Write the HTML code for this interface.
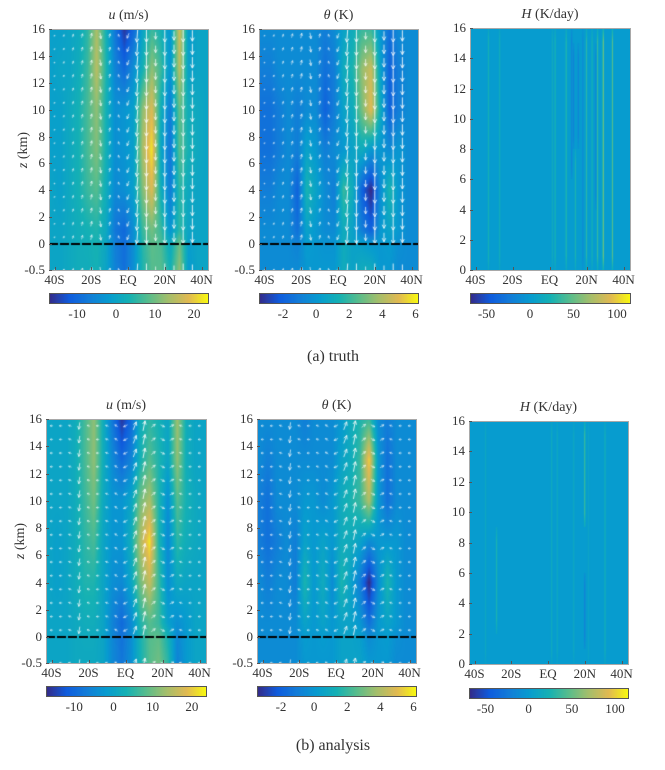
<!DOCTYPE html>
<html><head><meta charset="utf-8">
<style>
body{margin:0;width:665px;height:770px;background:#fff;position:relative;overflow:hidden;font-family:"Liberation Serif","DejaVu Serif",serif;color:#333}
.abs{position:absolute}
.tl{position:absolute;font-size:13px;line-height:13px;white-space:nowrap;color:#333;font-family:"Liberation Serif","DejaVu Serif",serif}
.panel{position:absolute;border:1px solid #a8a8a8;box-sizing:border-box}
.cb{position:absolute;border:1px solid #555;box-sizing:border-box}
.title{position:absolute;font-size:14px;white-space:nowrap;transform:translateX(-50%);font-family:"Liberation Serif","DejaVu Serif",serif}
.cap{position:absolute;font-size:16px;white-space:nowrap;transform:translateX(-50%);font-family:"Liberation Serif","DejaVu Serif",serif}
</style></head>
<body>
<div class="cap" style="left:333px;top:348px">(a) truth</div>
<div class="cap" style="left:333px;top:737px">(b) analysis</div>
<script>
// ---- data ----
const gridLons=[-42,-37,-32,-27,-22,-17,-12,-7,-2,3,8,13,18,23,28,33,38,43];
const gridZ=[16,13,10,7,4,1,-0.5];
const uTruth=[
[-1,-1,0,1,5,14,3,-8,-16,-10,0,6,3,-3,17,-2,0,0],
[-1,0,0,2,6,15,4,-6,-10,-4,3,12,6,-3,15,-1,0,0],
[-1,-1,1,3,7,12,3,-4,-3,-1,12,18,2,-7,9,2,1,0],
[-1,-1,1,3,7,11,3,-4,-3,-1,14,22,0,-8,8,3,1,0],
[0,-1,1,3,6,8,2,-5,-4,-1,11,18,2,-7,5,1,0,0],
[0,0,1,2,3,4,1,-8,-10,-4,6,10,6,-3,5,0,0,0],
[0,0,1,2,2,3,0,-6,-9,-4,4,8,8,3,12,-2,0,0]];
const uAnalysis=[
[0,0,0,2,7,12,2,-8,-16,-10,2,5,3,0,13,2,0,0],
[0,0,0,2,7,12,2,-5,-10,-6,3,8,4,0,12,2,0,0],
[0,0,0,2,6,10,1,-3,-3,0,10,14,4,-4,8,3,1,0],
[0,-1,0,2,5,7,0,-3,-3,2,14,22,4,-5,5,2,1,0],
[0,-1,0,2,4,4,0,-4,-5,0,10,16,6,-4,1,0,0,0],
[0,0,0,1,2,2,0,-6,-10,-5,4,8,6,-1,-4,-2,0,0],
[0,0,0,1,1,1,0,-5,-8,-4,3,8,10,5,-6,-2,0,0]];
const thTruth=[
[-0.5,-0.5,-0.5,-0.5,-0.5,-0.5,-0.5,-1,-0.5,0.5,1,2,2,0,-1.5,-0.5,-0.5,-0.5],
[-1,-1,-0.5,-0.5,-0.5,-0.5,-0.5,-1.5,-1,1,1.5,3.5,4.5,0.5,-2,-1,-0.5,-0.5],
[-1.5,-1.5,-1,-0.5,-1,-0.5,-0.5,-2,-1,0.5,1,3,5,1,-2,-1,-0.5,-0.5],
[-1.5,-1.5,-1,-0.5,-1,0.5,0,-1,-0.5,0,0.5,1,0,0,-0.5,0,-0.5,-0.5],
[-1,-1,-0.5,-0.5,-2,1.5,0.5,-0.5,-1,2,1,-2,-3.5,-0.5,1.5,0,-0.5,-0.5],
[-0.5,-0.5,-0.5,-0.5,-1.5,0.5,0,-0.5,-0.5,1,0.5,-1,-2,0,0.5,0,-0.5,-0.5],
[-0.5,-0.5,-0.5,-0.5,-0.5,0,0,0,0,1,0.5,1,1,0,0,-0.5,-0.5,-0.5]];
const thAnalysis=[
[-0.5,-0.5,-0.5,-0.5,-0.5,-1,-0.5,-0.5,-0.5,0,1,1.5,2,-0.5,-1,-0.5,-0.5,-0.5],
[-0.5,-1,-0.5,-0.5,-0.5,-0.5,-0.5,-0.5,-0.5,0.5,1,2,5.5,0,-1.5,-0.5,-0.5,-0.5],
[-1,-1.5,-0.5,-0.5,-0.5,0,0,-0.5,0,1,1.5,2,4,0,-1.5,-0.5,-0.5,-0.5],
[-1,-1.5,-1,-0.5,-1,0.5,0,0.5,0,1,1,0.5,-0.5,0,0,0,-0.5,-0.5],
[-0.5,-1,-0.5,-0.5,-1,1.5,0,1,-0.5,1.5,0.5,-1,-3.5,-0.5,1.5,0,-0.5,-0.5],
[-0.5,-0.5,-0.5,-0.5,-0.5,0.5,0,0.5,0,0.5,0.5,0,-1.5,0,0.5,0,-0.5,-0.5],
[-0.5,-0.5,-0.5,-0.5,-0.5,0,0,0,0,0.5,0.5,0.5,0,0,0,-0.5,-0.5,-0.5]];
// heating stripes
const hTruthLon=[-33,-27,1.5,3,9,12,13,14,15.5,18,20,23,25,26,29,34];
const hTruthVal=[22,18,15,25,30,-18,-20,25,-18,-12,30,22,-15,35,60,45];
const hTruthZ0=[0,0,0,0,0,6,8,0,8,0,0,0,4,0,0,0];
const hTruthZ1=[16,16,16,16,16,16,15,8,15,16,16,16,15,16,16,16];
const hAnaLon=[-34,-28,2,5,14,20,20,22,31];
const hAnaVal=[12,25,15,12,12,40,-22,8,20];
const hAnaZ0=[0,2,0,0,0,9,1,0,0];
const hAnaZ1=[16,9,16,16,16,16,6,16,16];
// wind arrows (px per arrow, u east, w up)
const arrowLons=[-40,-35,-30,-25,-20,-15,-10,-5,0,5,10,15,20,25,30,35,40];
const wTruth=[1,2,3,4,5,-6,4,3,-5,-13,-13,-7,-13,-9,-13,-11,0];
const uwTruth=[1,1,1,1,1,1,1,-1,-2,-1,0,0,0,0,0,0,0];
const wAna=[0,0,1,-7,1,0,1,2,-2,8,10,3,-2,2,1,0,0];
const uwAna=[-3,-3,-3,-1,-3,-3,-3,-3,-4,3,2,4,4,4,-3,-3,-3];
// color ranges and ticks
const uRange=[-17.2,23.6], thRange=[-3.45,6.15], hRange=[-69,115];
const uTicks=[-10,0,10,20], thTicks=[-2,0,2,4,6], hTicks=[-50,0,50,100];
const xTicks=[-40,-20,0,20,40], xTickLabels=["40S","20S","EQ","20N","40N"];
const zTicksUT=[16,14,12,10,8,6,4,2,0,-0.5], zTicksH=[16,14,12,10,8,6,4,2,0];

const LON_MIN=-43, LON_MAX=43.5;
const PAR=[[53,42,135],[15,92,221],[18,125,216],[7,156,207],[21,177,180],[89,189,140],[165,190,107],[225,185,82],[249,251,14]];
function cmap(t){t=Math.max(0,Math.min(1,t));const f=t*(PAR.length-1);const i=Math.min(PAR.length-2,Math.floor(f));const r=f-i;
 return PAR[i].map((c,k)=>Math.round(c+(PAR[i+1][k]-c)*r));}
function gridVal(g,lon,z){
 let i=0;while(i<gridLons.length-2&&lon>gridLons[i+1])i++;
 let tx=(lon-gridLons[i])/(gridLons[i+1]-gridLons[i]);tx=Math.max(0,Math.min(1,tx));
 let j=0;while(j<gridZ.length-2&&z<gridZ[j+1])j++;
 let ty=(gridZ[j]-z)/(gridZ[j]-gridZ[j+1]);ty=Math.max(0,Math.min(1,ty));
 const a=g[j][i],b=g[j][i+1],c=g[j+1][i],d=g[j+1][i+1];
 return (a*(1-tx)+b*tx)*(1-ty)+(c*(1-tx)+d*tx)*ty;}
function stripeVal(lons,vals,z0s,z1s,lon,z){
 let v=0;for(let k=0;k<lons.length;k++){const dl=(lon-lons[k])/0.4;const wl=Math.exp(-dl*dl);
  const ez=Math.min(z-z0s[k],z1s[k]-z);const wz=ez>=0?Math.min(1,0.4+ez/1.5):0;v+=vals[k]*wl*wz;}return v;}

function el(tag,cls,parent){const e=document.createElement(tag);if(cls)e.className=cls;(parent||document.body).appendChild(e);return e;}

function panel(o){
 const X=lon=>o.x+(lon-LON_MIN)/(LON_MAX-LON_MIN)*o.w;
 const hPos=o.zMin<0?o.h-26:o.h;
 const Z=z=>z>=0?o.y+(o.zMax-z)/o.zMax*hPos:o.y+hPos+(-z)/0.5*26;
 const Zinv=py=>py<=hPos?o.zMax-py/hPos*o.zMax:-(py-hPos)/26*0.5;
 const cv=el('canvas','abs');cv.width=o.w;cv.height=o.h;cv.style.left=o.x+'px';cv.style.top=o.y+'px';
 
 
 const ctx=cv.getContext('2d');const img=ctx.createImageData(o.w,o.h);
 for(let py=0;py<o.h;py++){const z=Zinv(py+0.5);
  for(let px=0;px<o.w;px++){const lon=LON_MIN+(px+0.5)/o.w*(LON_MAX-LON_MIN);
   const v=o.field(lon,z);const c=cmap((v-o.range[0])/(o.range[1]-o.range[0]));const p=(py*o.w+px)*4;
   img.data[p]=c[0];img.data[p+1]=c[1];img.data[p+2]=c[2];img.data[p+3]=255;}}
 ctx.putImageData(img,0,0);
 if(o.au){ctx.lineWidth=1;
  for(let i=0;i<arrowLons.length;i++){for(let z=15.5;z>=-0.5;z-=1){
   const cx=X(arrowLons[i])-o.x,cy=Z(z)-o.y;const dx=o.au[i],dy=-o.aw[i];
   const L=Math.hypot(dx,dy)||1;
   ctx.strokeStyle='rgba(255,255,255,'+Math.min(0.85,0.35+L*0.05)+')';
   const x0=cx-dx/2,y0=cy-dy/2,x1=cx+dx/2,y1=cy+dy/2;
   ctx.beginPath();ctx.moveTo(x0,y0);ctx.lineTo(x1,y1);
   const hl=Math.min(4,L*0.35+1);const ux=dx/L,uy=dy/L;
   ctx.moveTo(x1,y1);ctx.lineTo(x1-hl*(ux*0.9-uy*0.45),y1-hl*(uy*0.9+ux*0.45));
   ctx.moveTo(x1,y1);ctx.lineTo(x1-hl*(ux*0.9+uy*0.45),y1-hl*(uy*0.9-ux*0.45));
   ctx.stroke();}}
  ctx.strokeStyle='#000';ctx.lineWidth=2;ctx.setLineDash([9,2]);ctx.beginPath();
  ctx.moveTo(0,Z(0)-o.y);ctx.lineTo(o.w,Z(0)-o.y);ctx.stroke();}
 const bd=el('div','panel');bd.style.cssText=`left:${o.x}px;top:${o.y}px;width:${o.w+1}px;height:${o.h+1}px`;
 
 
 o.zt.forEach(z=>{const t=el('div','tl');t.textContent=String(z);t.style.left=(o.x-40)+'px';t.style.width='36px';t.style.textAlign='right';t.style.top=(Z(z)-7)+'px';
  
  
  const m=el('div','abs');m.style.cssText=`left:${o.x}px;top:${Z(z)}px;width:3px;height:1px;background:#555`;});
 xTicks.forEach((lon,i)=>{const t=el('div','tl');t.textContent=xTickLabels[i];t.style.left=(X(lon)-20)+'px';t.style.width='40px';t.style.textAlign='center';t.style.top=(o.y+o.h+3)+'px';
  
  
  const m=el('div','abs');m.style.cssText=`left:${X(lon)}px;top:${o.y+o.h-3}px;width:1px;height:3px;background:#555`;});
 const ti=el('div','title');ti.innerHTML=o.title;ti.style.left=(o.x+o.w/2)+'px';ti.style.top=(o.y-21)+'px';
 
 
 const C=v=>o.x+(v-o.range[0])/(o.range[1]-o.range[0])*o.w;
 const cb=el('canvas','abs');cb.width=o.w;cb.height=10;cb.style.left=o.x+'px';cb.style.top=o.cby+'px';
 
 
 const cc=cb.getContext('2d');for(let px=0;px<o.w;px++){const c=cmap(px/o.w);cc.fillStyle=`rgb(${c})`;cc.fillRect(px,0,1,10);}
 const cbb=el('div','cb');cbb.style.cssText=`left:${o.x}px;top:${o.cby}px;width:${o.w+1}px;height:11px`;
 o.ct.forEach(v=>{const t=el('div','tl');t.textContent=String(v);t.style.left=(C(v)-20)+'px';t.style.width='40px';t.style.textAlign='center';t.style.top=(o.cby+14)+'px';
  
  });
 if(o.ylabel){const yl=el('div','abs');yl.innerHTML='<i>z</i> (km)';yl.style.cssText=`left:${o.x-50}px;top:${o.y+o.h/2-8}px;font-size:14px;transform:rotate(-90deg);transform-origin:center;width:50px;text-align:center`;
  
  }
}
const tU='<i>u</i> (m/s)', tT='<i>θ</i> (K)', tH='<i>H</i> (K/day)';
panel({name:'truth-u',x:49,y:29,w:159,h:241,zMin:-0.5,zMax:16,range:uRange,ct:uTicks,zt:zTicksUT,title:tU,cby:293,ylabel:true,
 field:(l,z)=>gridVal(uTruth,l,z),au:uwTruth,aw:wTruth});
panel({name:'truth-theta',x:259,y:29,w:159,h:241,zMin:-0.5,zMax:16,range:thRange,ct:thTicks,zt:zTicksUT,title:tT,cby:293,
 field:(l,z)=>gridVal(thTruth,l,z),au:uwTruth,aw:wTruth});
panel({name:'truth-heating',x:470,y:28,w:160,h:242,zMin:0,zMax:16,range:hRange,ct:hTicks,zt:zTicksH,title:tH,cby:293,
 field:(l,z)=>stripeVal(hTruthLon,hTruthVal,hTruthZ0,hTruthZ1,l,z)});
panel({name:'analysis-u',x:46,y:419,w:160,h:244,zMin:-0.5,zMax:16,range:uRange,ct:uTicks,zt:zTicksUT,title:tU,cby:686,ylabel:true,
 field:(l,z)=>gridVal(uAnalysis,l,z),au:uwAna,aw:wAna});
panel({name:'analysis-theta',x:257,y:419,w:159,h:244,zMin:-0.5,zMax:16,range:thRange,ct:thTicks,zt:zTicksUT,title:tT,cby:686,
 field:(l,z)=>gridVal(thAnalysis,l,z),au:uwAna,aw:wAna});
panel({name:'analysis-heating',x:469,y:421,w:159,h:243,zMin:0,zMax:16,range:hRange,ct:hTicks,zt:zTicksH,title:tH,cby:688,
 field:(l,z)=>stripeVal(hAnaLon,hAnaVal,hAnaZ0,hAnaZ1,l,z)});
</script>
</body></html>
